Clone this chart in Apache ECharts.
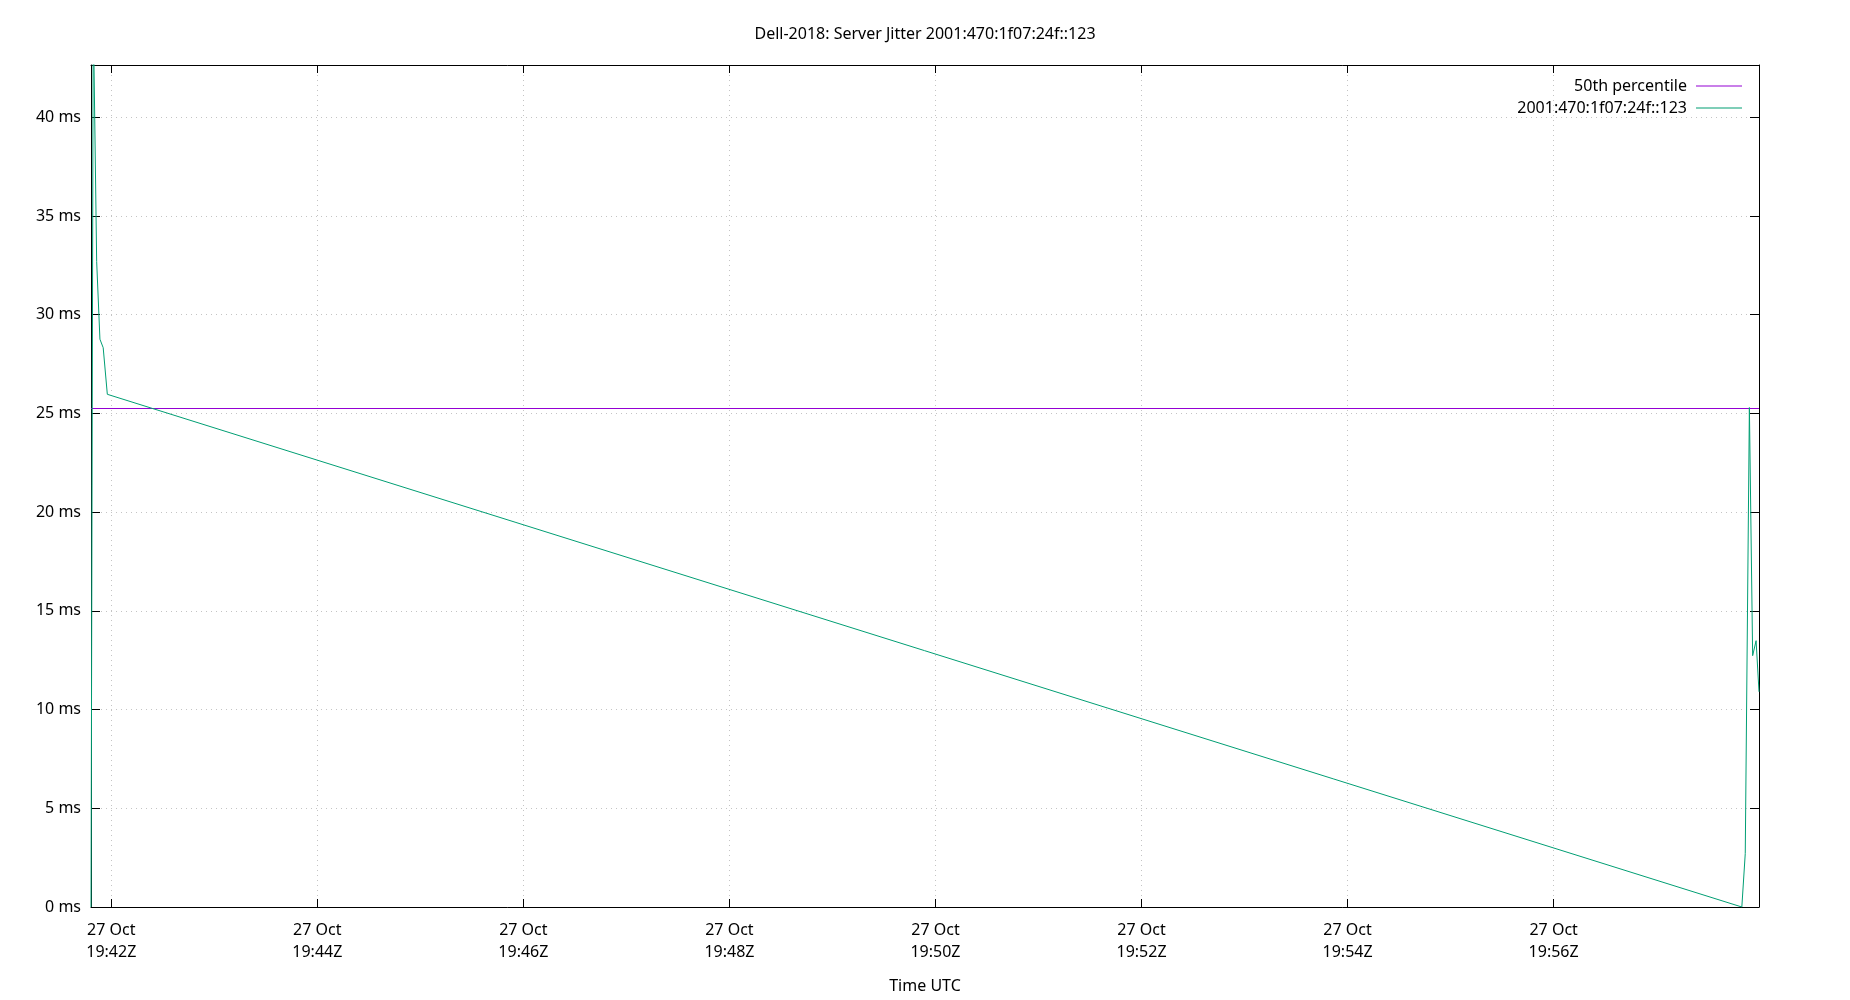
<!DOCTYPE html>
<html>
<head>
<meta charset="utf-8">
<script src="https://cdn.jsdelivr.net/npm/echarts@6/dist/echarts.min.js"></script>
<style>
html,body{margin:0;padding:0;background:#fff;}
#chart{width:1850px;height:1000px;}
</style>
</head>
<body>
<div id="chart"></div>
<script>
// ---- data ----
const chartTitle = 'Dell-2018: Server Jitter 2001:470:1f07:24f::123';
const jitterName = '2001:470:1f07:24f::123';
const percentileName = '50th percentile';
const jitterTimes = [
  '2021-10-27T19:41:48.2Z', '2021-10-27T19:41:49.5Z', '2021-10-27T19:41:51.5Z',
  '2021-10-27T19:41:53.4Z', '2021-10-27T19:41:55.3Z', '2021-10-27T19:41:57.7Z',
  '2021-10-27T19:57:49.6Z', '2021-10-27T19:57:51.6Z', '2021-10-27T19:57:54.0Z',
  '2021-10-27T19:57:55.9Z', '2021-10-27T19:57:57.9Z', '2021-10-27T19:57:59.6Z'
];
const jitterValues = [0, 45.5, 32.7, 28.76, 28.33, 25.97, 0, 2.71, 25.3, 12.73, 13.49, 10.9];
const percentileTimes = ['2021-10-27T19:41:48.2Z', '2021-10-27T19:57:59.6Z'];
const percentileValues = [25.25, 25.25];
const xTicks = [
  '2021-10-27T19:42:00Z', '2021-10-27T19:44:00Z', '2021-10-27T19:46:00Z', '2021-10-27T19:48:00Z',
  '2021-10-27T19:50:00Z', '2021-10-27T19:52:00Z', '2021-10-27T19:54:00Z', '2021-10-27T19:56:00Z'
];
const yTicks = [0, 5, 10, 15, 20, 25, 30, 35, 40];
const yMax = 42.65;
const xAxisName = 'Time UTC';
const monthNames = ['Jan','Feb','Mar','Apr','May','Jun','Jul','Aug','Sep','Oct','Nov','Dec'];

// ---- build ----
const toMs = s => Date.parse(s);
const pad = n => (n < 10 ? '0' : '') + n;
function fmtTime(v) {
  const d = new Date(v);
  return d.getUTCDate() + ' ' + monthNames[d.getUTCMonth()] + '\n' +
    pad(d.getUTCHours()) + ':' + pad(d.getUTCMinutes()) + 'Z';
}
const xMin = toMs(jitterTimes[0]);
const xMax = toMs(jitterTimes[jitterTimes.length - 1]);
const xTickVals = xTicks.map(toMs);
const FONT = 'Noto Sans';
const gridLine = { show: true, lineStyle: { color: '#c4c4c4', width: 1, type: [1, 4] } };
const axisLineStyle = { show: true, onZero: false, lineStyle: { color: '#000', width: 1 } };

const chart = echarts.init(document.getElementById('chart'), null, { renderer: 'canvas' });
chart.setOption({
  animation: false,
  backgroundColor: '#fff',
  textStyle: { fontFamily: FONT },
  title: {
    text: chartTitle, left: 'center', top: 21,
    textStyle: { fontFamily: FONT, fontSize: 16, fontWeight: 'normal', color: '#000' }
  },
  legend: [
    {
      data: [percentileName], right: 103, top: 73, orient: 'vertical', align: 'right',
      icon: 'rect', itemWidth: 46, itemHeight: 1,
      textStyle: { fontFamily: FONT, fontSize: 16, color: '#000', padding: [0, 4, 0, 0] },
      selectedMode: false
    },
    {
      data: [jitterName], right: 103, top: 95, orient: 'vertical', align: 'right',
      icon: 'rect', itemWidth: 46, itemHeight: 1,
      textStyle: { fontFamily: FONT, fontSize: 16, color: '#000', padding: [0, 4, 0, 0] },
      selectedMode: false
    }
  ],
  grid: { left: 91, right: 91, top: 65, bottom: 93, containLabel: false },
  xAxis: [
    {
      type: 'value', min: xMin, max: xMax, position: 'bottom',
      name: xAxisName, nameLocation: 'middle', nameGap: 71,
      nameTextStyle: { fontFamily: FONT, fontSize: 16, color: '#000' },
      axisLine: axisLineStyle,
      axisTick: { show: true, inside: true, length: 8, customValues: xTickVals, lineStyle: { color: '#000' } },
      axisLabel: {
        customValues: xTickVals, formatter: fmtTime, margin: 12,
        fontFamily: FONT, fontSize: 16, color: '#000', lineHeight: 22, align: 'center'
      },
      splitLine: gridLine
    },
    {
      type: 'value', min: xMin, max: xMax, position: 'top',
      axisLine: axisLineStyle,
      axisTick: { show: true, inside: true, length: 8, customValues: xTickVals, lineStyle: { color: '#000' } },
      axisLabel: { show: false },
      splitLine: { show: false }
    }
  ],
  yAxis: [
    {
      type: 'value', min: 0, max: yMax, position: 'left',
      axisLine: axisLineStyle,
      axisTick: { show: true, inside: true, length: 9, customValues: yTicks, lineStyle: { color: '#000' } },
      axisLabel: {
        customValues: yTicks, formatter: v => v + ' ms', margin: 10,
        fontFamily: FONT, fontSize: 16, color: '#000'
      },
      splitLine: gridLine
    },
    {
      type: 'value', min: 0, max: yMax, position: 'right',
      axisLine: axisLineStyle,
      axisTick: { show: true, inside: true, length: 9, customValues: yTicks, lineStyle: { color: '#000' } },
      axisLabel: { show: false },
      splitLine: { show: false }
    }
  ],
  series: [
    {
      name: percentileName, type: 'line', xAxisIndex: 0, yAxisIndex: 0,
      data: percentileTimes.map((t, i) => [toMs(t), percentileValues[i]]),
      symbol: 'none', color: '#9400d3', lineStyle: { color: '#9400d3', width: 1 },
      clip: true, z: 2
    },
    {
      name: jitterName, type: 'line', xAxisIndex: 0, yAxisIndex: 0,
      data: jitterTimes.map((t, i) => [toMs(t), jitterValues[i]]),
      symbol: 'none', color: '#009e73', lineStyle: { color: '#009e73', width: 1 },
      clip: true, z: 3
    }
  ]
});
</script>
</body>
</html>
